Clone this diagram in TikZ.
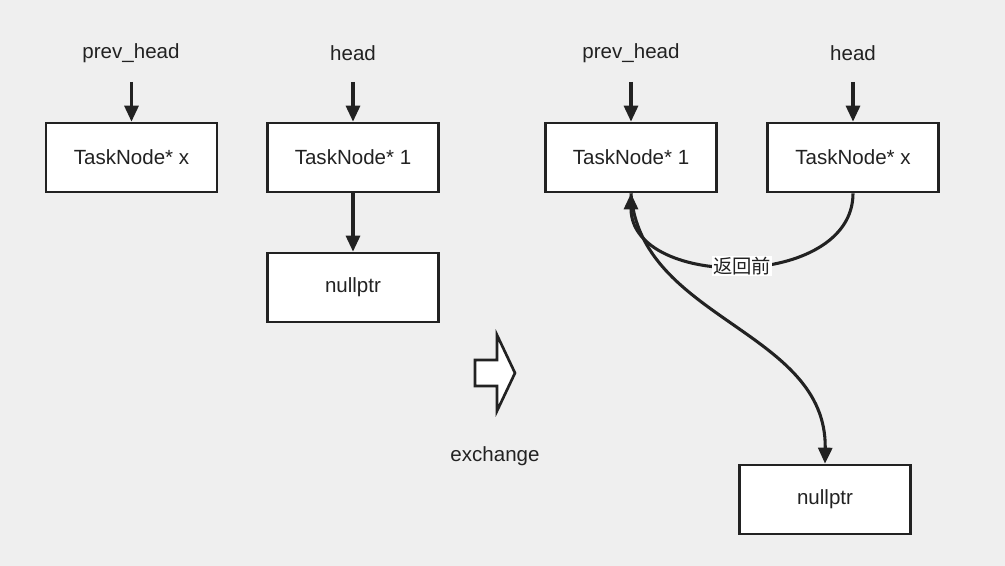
\documentclass[tikz,border=0pt]{standalone}
\usepackage{fontspec}
\setmainfont{Liberation Sans}
\newfontfamily\cjk{Noto Sans CJK SC}
\usetikzlibrary{arrows.meta}
\definecolor{bgGray}{HTML}{EFEFEF}
\definecolor{inkDark}{HTML}{222222}
\begin{document}
\begin{tikzpicture}[x=0.75pt, y=-0.75pt, every node/.style={font=\fontsize{15.4}{18}\selectfont, text=inkDark},
  ptrbox/.style={draw=inkDark, fill=white, line width=2pt, minimum width=171*0.75pt, minimum height=69*0.75pt, inner sep=0pt},
  ptrlabel/.style={inner sep=1pt},
  link/.style={-{Triangle[length=12pt, width=10.5pt]}, line width=2.3pt, draw=inkDark}]
% Background
\fill[bgGray] (0,0) rectangle (1005,566);
\useasboundingbox (0,0) rectangle (1005,566);
% Before exchange
\node[ptrlabel] (lprev) at (131,53) {prev\_head};
\node[ptrlabel] (lhead) at (353,53) {head};
\node[ptrbox] (bx) at (131.5,157.5) {TaskNode* x};
\node[ptrbox] (b1) at (353,157.5) {TaskNode* 1};
\node[ptrbox] (bnull) at (353,287.5) {nullptr};
\draw[link] (131.5,82) -- (bx.north);
\draw[link] (353,82) -- (b1.north);
\draw[link] (b1.south) -- (bnull.north);
% Exchange arrow
\filldraw[fill=white, draw=inkDark, line width=2pt, line join=miter]
  (475,360) -- (497,360) -- (497,335) -- (515,373) -- (497,411) -- (497,386) -- (475,386) -- cycle;
\node (exch) at (495,456) {exchange};
% After exchange
\node[ptrlabel] (rprev) at (631,53) {prev\_head};
\node[ptrlabel] (rhead) at (853,53) {head};
\node[ptrbox] (r1) at (631,157.5) {TaskNode* 1};
\node[ptrbox] (rx) at (853,157.5) {TaskNode* x};
\node[ptrbox] (rnull) at (825,499.5) {nullptr};
\draw[link] (631,82) -- (r1.north);
\draw[link] (853,82) -- (rx.north);
\draw[link] (rx.south) .. controls (853,290) and (631,290) .. (r1.south)
  node[pos=0.5, fill=white, inner sep=1pt, font=\cjk\fontsize{14.5}{16}\selectfont] (back) {返回前};
\draw[link] (r1.south) .. controls (640,320) and (827,330) .. (rnull.north);
\end{tikzpicture}
\end{document}
